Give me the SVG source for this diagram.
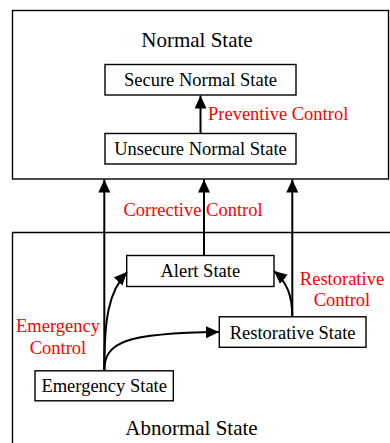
<svg xmlns="http://www.w3.org/2000/svg" width="390" height="443" viewBox="0 0 390 443">
<style>
.box{fill:#fff;stroke:#000;stroke-width:1.4}
.frame{fill:none;stroke:#000;stroke-width:1.4}
.t{font-family:"Liberation Serif","Times New Roman",serif;font-size:18.5px;fill:#000;text-anchor:middle}
.title{font-family:"Liberation Serif","Times New Roman",serif;font-size:21px;fill:#000;text-anchor:middle}
.r{font-family:"Liberation Serif","Times New Roman",serif;font-size:18.5px;fill:#ff0000}
.c{fill:none;stroke:#000;stroke-width:2}
</style>
<defs>
<marker id="ah" markerUnits="userSpaceOnUse" markerWidth="14" markerHeight="13" refX="13" refY="6" orient="auto">
<path d="M0,0 L13,6 L0,12 z" fill="#000"/>
</marker>
</defs>
<g id="normal-region">
<rect class="frame" x="12.5" y="10.5" width="376" height="168.5"/>
<text class="title" x="197" y="47">Normal State</text>
</g>
<g id="abnormal-region">
<path class="frame" d="M12.5,443 L12.5,232.5 L390,232.5"/>
<text class="title" x="191.5" y="435">Abnormal State</text>
</g>
<g id="secure-normal">
<rect class="box" x="105" y="64.5" width="191" height="30.5"/>
<text class="t" x="200.5" y="85.5">Secure Normal State</text>
</g>
<g id="unsecure-normal">
<rect class="box" x="105" y="133.5" width="191" height="30.5"/>
<text class="t" x="200.5" y="154.5">Unsecure Normal State</text>
</g>
<g id="alert">
<rect class="box" x="126.7" y="255.5" width="147.3" height="31"/>
<text class="t" x="200.3" y="277">Alert State</text>
</g>
<g id="restorative">
<rect class="box" x="219.3" y="316.8" width="146.7" height="30.5"/>
<text class="t" x="292.6" y="338.5">Restorative State</text>
</g>
<g id="emergency">
<rect class="box" x="35" y="370.8" width="138.3" height="30"/>
<text class="t" x="104.2" y="392">Emergency State</text>
</g>
<g id="connectors">
<path class="c" d="M200.5,133.5 L200.5,95.5" marker-end="url(#ah)"/>
<path class="c" d="M104.3,370.8 L104.3,179.5" marker-end="url(#ah)"/>
<path class="c" d="M204,255.5 L204,179.5" marker-end="url(#ah)"/>
<path class="c" d="M292.3,316.8 L292.3,179.5" marker-end="url(#ah)"/>
<path class="c" d="M104.3,370.8 C104.3,320 108,292 127,272" marker-end="url(#ah)"/>
<path class="c" d="M104.3,370.8 C104.3,342 125,333 219,332" marker-end="url(#ah)"/>
<path class="c" d="M292.3,316.8 C292.3,296 287,282 274,271" marker-end="url(#ah)"/>
</g>
<g id="labels">
<text class="r" x="208" y="119.5">Preventive Control</text>
<text class="r" x="193" y="216" text-anchor="middle">Corrective Control</text>
<text class="r" x="58" y="332" text-anchor="middle">Emergency</text>
<text class="r" x="58" y="353.5" text-anchor="middle">Control</text>
<text class="r" x="342" y="284.5" text-anchor="middle">Restorative</text>
<text class="r" x="342" y="306" text-anchor="middle">Control</text>
</g>
</svg>
